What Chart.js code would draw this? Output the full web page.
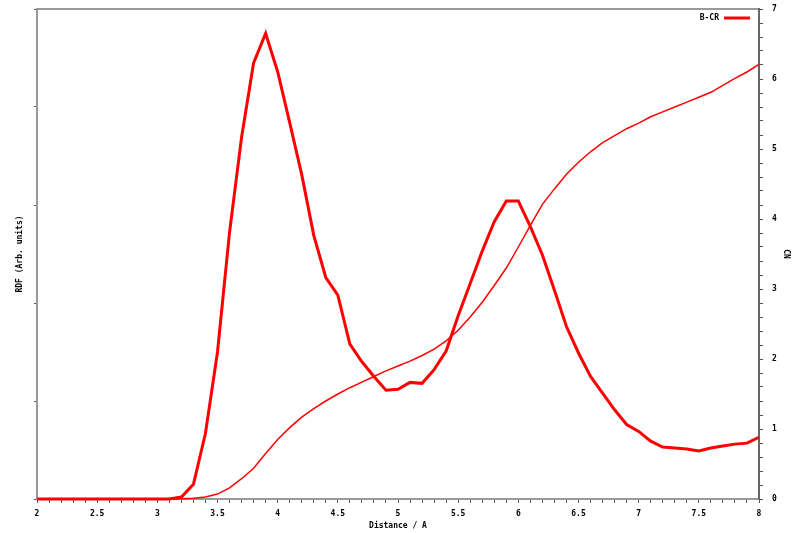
<!DOCTYPE html>
<html>
<head>
<meta charset="utf-8">
<title>B-CR RDF</title>
<script src="https://cdn.jsdelivr.net/npm/chart.js@4"></script>
<style>
html, body { margin: 0; padding: 0; background: #fff; }
</style>
</head>
<body>
<canvas id="rdfChart" width="800" height="533"></canvas>
<script>
// distance grid (A), every 0.1
var distances = [2.0, 2.1, 2.2, 2.3, 2.4, 2.5, 2.6, 2.7, 2.8, 2.9,
    3.0, 3.1, 3.2, 3.3, 3.4, 3.5, 3.6, 3.7, 3.8, 3.9,
    4.0, 4.1, 4.2, 4.3, 4.4, 4.5, 4.6, 4.7, 4.8, 4.9,
    5.0, 5.1, 5.2, 5.3, 5.4, 5.5, 5.6, 5.7, 5.8, 5.9,
    6.0, 6.1, 6.2, 6.3, 6.4, 6.5, 6.6, 6.7, 6.8, 6.9,
    7.0, 7.1, 7.2, 7.3, 7.4, 7.5, 7.6, 7.7, 7.8, 7.9, 8.0];

// RDF, arbitrary units (left axis 0..5)
var rdfValues = [0, 0, 0, 0, 0, 0, 0, 0, 0, 0,
    0, 0, 0.02, 0.15, 0.67, 1.50, 2.72, 3.69, 4.45, 4.75,
    4.36, 3.84, 3.31, 2.69, 2.26, 2.08, 1.58, 1.40, 1.25, 1.11,
    1.12, 1.19, 1.18, 1.32, 1.51, 1.87, 2.20, 2.53, 2.83, 3.04,
    3.04, 2.78, 2.49, 2.13, 1.76, 1.49, 1.25, 1.08, 0.91, 0.76,
    0.69, 0.59, 0.53, 0.52, 0.51, 0.49, 0.52, 0.54, 0.56, 0.57, 0.63];

// running coordination number (right axis 0..7)
var cnValues = [0, 0, 0, 0, 0, 0, 0, 0, 0, 0,
    0, 0, 0.005, 0.01, 0.03, 0.07, 0.16, 0.29, 0.44, 0.65,
    0.85, 1.02, 1.17, 1.29, 1.40, 1.50, 1.59, 1.67, 1.75, 1.83,
    1.90, 1.97, 2.05, 2.14, 2.26, 2.41, 2.60, 2.81, 3.05, 3.30,
    3.60, 3.91, 4.21, 4.43, 4.64, 4.81, 4.96, 5.09, 5.19, 5.29,
    5.37, 5.46, 5.53, 5.60, 5.67, 5.74, 5.81, 5.91, 6.01, 6.10, 6.21];

var seriesName = 'B-CR';
var xTitle = 'Distance / A';
var leftTitle = 'RDF (Arb. units)';
var rightTitle = 'CN';

Chart.defaults.font.family = "'DejaVu Sans Mono', monospace";
Chart.defaults.font.size = 8;
Chart.defaults.font.weight = 'bold';
Chart.defaults.color = '#000';

// small legend in the top right corner of the plot: text then line
var cornerLegend = {
    id: 'cornerLegend',
    afterDraw: function (chart) {
        var ctx = chart.ctx;
        var area = chart.chartArea;
        var ds = chart.data.datasets[0];
        var y = area.top + 9;
        var x1 = area.right - 9;
        var x0 = x1 - 26;
        ctx.save();
        ctx.strokeStyle = ds.borderColor;
        ctx.lineWidth = 3;
        ctx.beginPath();
        ctx.moveTo(x0, y);
        ctx.lineTo(x1, y);
        ctx.stroke();
        ctx.font = "bold 8px 'DejaVu Sans Mono'";
        ctx.fillStyle = '#000';
        ctx.textAlign = 'right';
        ctx.textBaseline = 'middle';
        ctx.fillText(ds.label, x0 - 5, y);
        ctx.restore();
    }
};

// no extra room for tick labels that stick out past the plot edges
function noEdgePadding(s) {
    s.paddingTop = 0;
    s.paddingBottom = 0;
    s.paddingLeft = 0;
    s.paddingRight = 0;
}

var rdfPoints = distances.map(function (d, i) { return { x: d, y: rdfValues[i] }; });
var cnPoints = distances.map(function (d, i) { return { x: d, y: cnValues[i] }; });

var chart = new Chart(document.getElementById('rdfChart'), {
    type: 'line',
    data: {
        datasets: [{
            label: seriesName,
            data: rdfPoints,
            yAxisID: 'y',
            borderColor: '#ff0000',
            borderWidth: 3,
            pointRadius: 0,
            tension: 0,
            clip: false
        }, {
            label: seriesName + ' CN',
            data: cnPoints,
            yAxisID: 'y2',
            borderColor: '#ff0000',
            borderWidth: 1.5,
            pointRadius: 0,
            tension: 0,
            clip: false
        }]
    },
    options: {
        responsive: false,
        animation: false,
        layout: { padding: { top: 9, left: 0, right: 0, bottom: 0 } },
        plugins: {
            legend: { display: false },
            tooltip: { enabled: false }
        },
        scales: {
            x: {
                type: 'linear',
                position: 'bottom',
                min: 2,
                max: 8,
                afterFit: function (s) { s.height = 34; noEdgePadding(s); },
                border: { color: '#999', width: 2 },
                grid: { drawOnChartArea: false, tickLength: 4, color: '#555' },
                ticks: {
                    stepSize: 0.1,
                    autoSkip: false,
                    maxRotation: 0,
                    padding: 6,
                    callback: function (v) {
                        var t = Math.round(v * 10);
                        return t % 5 === 0 ? String(t / 10) : '';
                    }
                },
                title: { display: true, text: xTitle, padding: { top: 0, bottom: 2 } }
            },
            xTop: {
                type: 'linear',
                position: 'top',
                min: 2,
                max: 8,
                afterFit: function (s) { s.height = 0; noEdgePadding(s); },
                border: { color: '#999', width: 2 },
                grid: { drawOnChartArea: false, drawTicks: false },
                ticks: { display: false }
            },
            y: {
                type: 'linear',
                position: 'left',
                min: 0,
                max: 5,
                afterFit: function (s) { s.width = 37; noEdgePadding(s); },
                border: { color: '#999', width: 2 },
                grid: { drawOnChartArea: false, tickLength: 3, color: '#555' },
                ticks: { display: false, stepSize: 1 },
                title: { display: true, text: leftTitle, padding: { top: 15, bottom: 0 } }
            },
            y2: {
                type: 'linear',
                position: 'right',
                min: 0,
                max: 7,
                afterFit: function (s) { s.width = 41; noEdgePadding(s); },
                border: { color: '#666', width: 2 },
                grid: { drawOnChartArea: false, tickLength: 4, color: '#555' },
                ticks: {
                    stepSize: 0.2,
                    autoSkip: false,
                    padding: 9,
                    callback: function (v) {
                        var t = Math.round(v * 10);
                        return t % 10 === 0 ? String(t / 10) : '';
                    }
                },
                title: { display: true, text: rightTitle, padding: { top: 9, bottom: 0 } }
            }
        }
    },
    plugins: [cornerLegend]
});
</script>
</body>
</html>
